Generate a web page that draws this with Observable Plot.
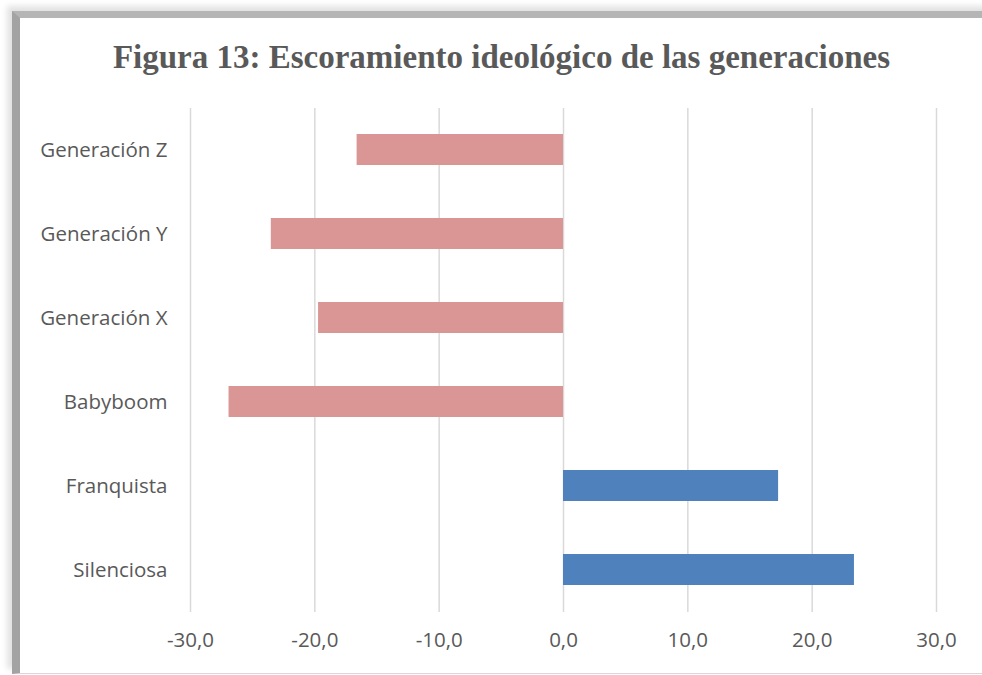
<!DOCTYPE html>
<html><head><meta charset="utf-8">
<script src="https://cdn.jsdelivr.net/npm/d3@7"></script>
<script src="https://cdn.jsdelivr.net/npm/@observablehq/plot@0.6"></script>
<style>
body{margin:0;background:#fff;width:982px;height:675px;overflow:hidden;position:relative;font-family:"Open Sans",sans-serif}
#frame{position:absolute;left:12px;top:11px;width:980px;height:655px;border-left:8px solid #a3a3a3;border-top:7px solid #b5b5b5;border-bottom:1px solid #d8d8d8;box-shadow:-5px -5px 6px #e2e2e2;background:#fff}
#title{position:absolute;left:21px;width:961px;top:39px;text-align:center;font:bold 33px "Liberation Serif",serif;color:#595959;white-space:nowrap}
#chart{position:absolute;left:0;top:0}
</style></head>
<body>
<div id="frame"></div>
<div id="title">Figura 13: Escoramiento ideológico de las generaciones</div>
<div id="chart"></div>
<script>
const generations = ["Generación Z","Generación Y","Generación X","Babyboom","Franquista","Silenciosa"];
const values = [-16.6,-23.5,-19.7,-26.9,17.3,23.4];
const xTicks = [-30,-20,-10,0,10,20,30];
const data = generations.map((g,i)=>({g, v: values[i]}));
const fmt = d => d.toFixed(1).replace(".", ",");
const chart = Plot.plot({
  width:982, height:675,
  marginLeft:190, marginRight:46, marginTop:108, marginBottom:63,
  style:{fontFamily:"Open Sans", fontSize:"20.5px", color:"#595959", background:"transparent", overflow:"visible"},
  x:{domain:[-30,30]},
  y:{domain:generations, paddingInner:0.63, paddingOuter:0.315},
  color:{domain:["neg","pos"], range:["#d99694","#4f81bd"]},
  marks:[
    Plot.ruleX(xTicks,{stroke:"#d9d9d9", strokeWidth:1.5}),
    Plot.barX(data,{x:"v", y:"g", fill:d=>d.v<0?"neg":"pos"}),
    Plot.axisX(xTicks,{tickSize:0, tickPadding:20, tickFormat:fmt, label:null, fontSize:20.5}),
    Plot.axisY({tickSize:0, tickPadding:23, label:null, fontSize:20.5})
  ]
});
document.getElementById("chart").appendChild(chart);
</script>
</body></html>
